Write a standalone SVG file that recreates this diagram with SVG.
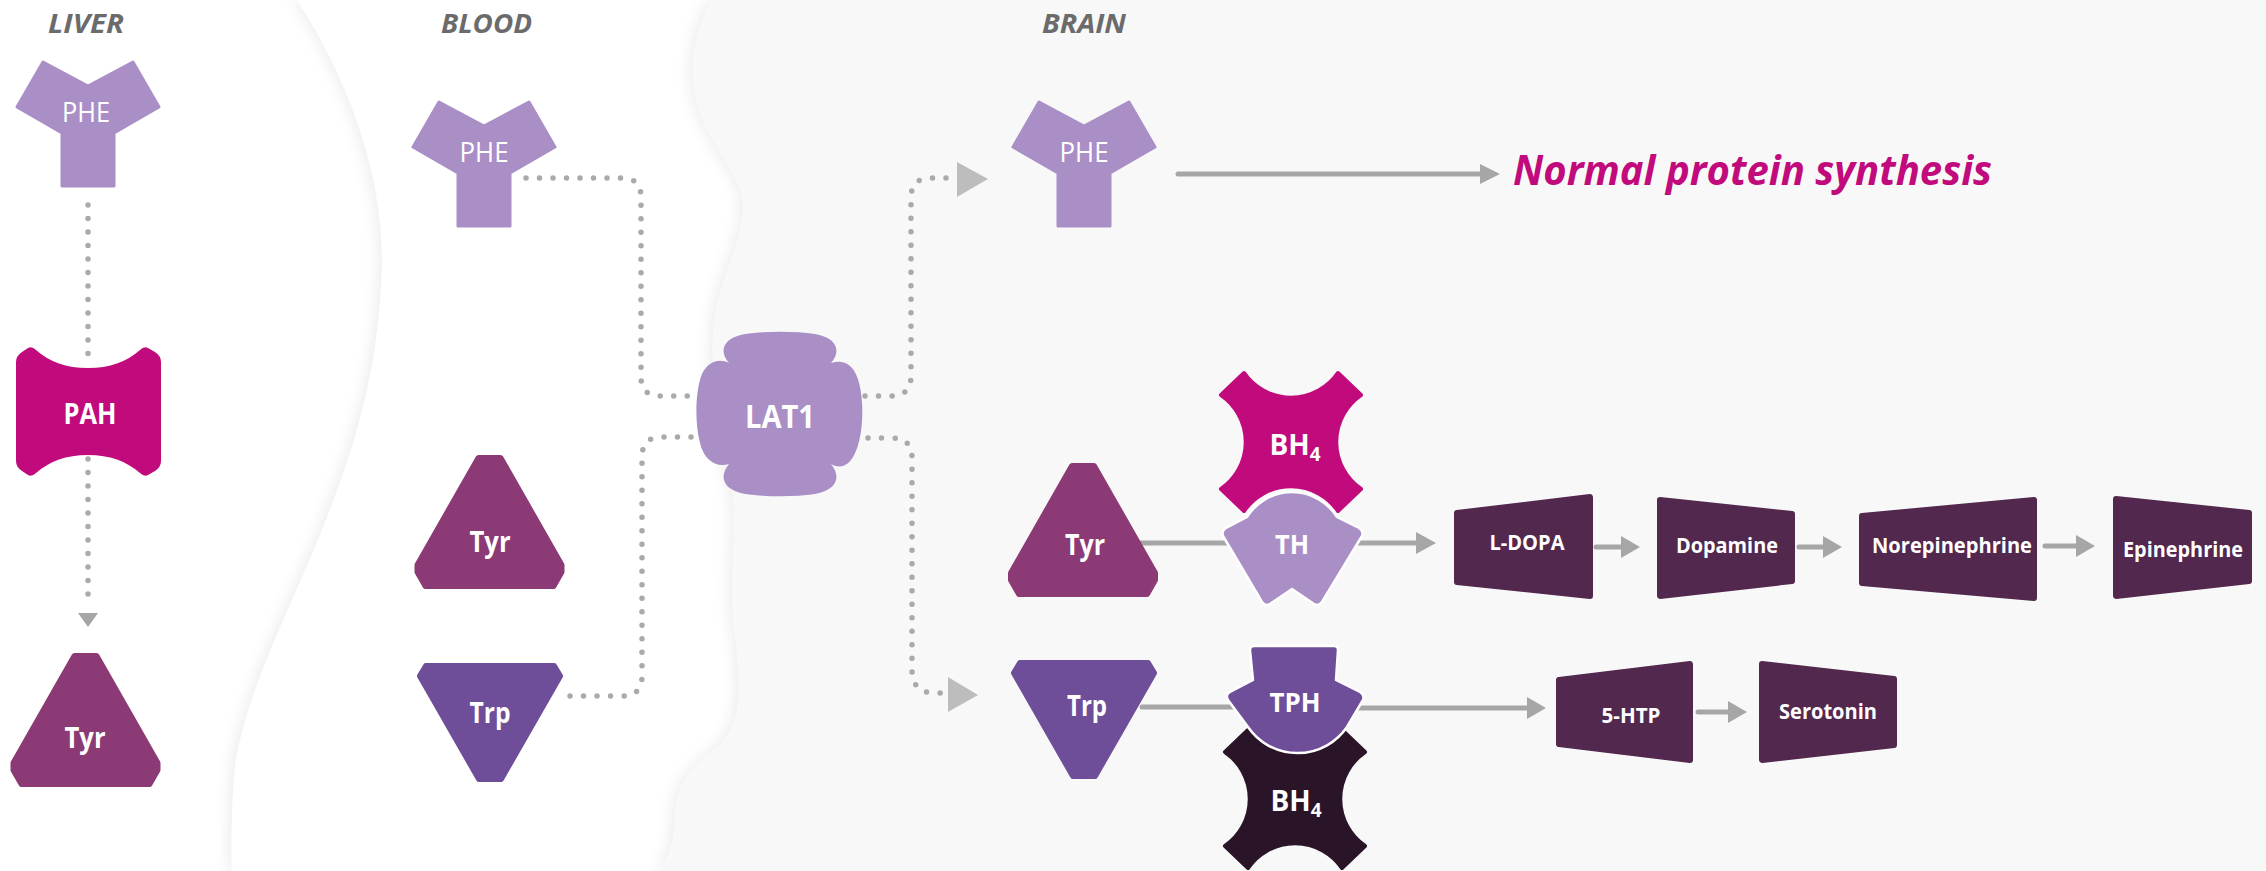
<svg xmlns="http://www.w3.org/2000/svg" width="2266" height="871" viewBox="0 0 2266 871">
<style>
.lbl{font-family:"Open Sans","Liberation Sans",sans-serif;font-weight:700;font-style:italic;font-size:26px;fill:#6b6b6b}
.nt{font-family:"Open Sans","Liberation Sans",sans-serif;fill:#fff;text-anchor:middle}
.thin{font-weight:400;font-size:28px}
.bold{font-weight:700;font-size:28px}
.box{font-weight:700;font-size:21px}
.dot{fill:none;stroke:#aaaaaa;stroke-width:5.5;stroke-linecap:round;stroke-dasharray:0 13.5}
.ln{fill:none;stroke:#a6a6a6;stroke-width:5;stroke-linecap:round}
.ah{fill:#a6a6a6}
.ahl{fill:#bdbdbd}
.phe{fill:#a98fc6;stroke:#a98fc6;stroke-width:3;stroke-linejoin:round}
.tyr{fill:#8b3a75;stroke:#8b3a75;stroke-width:6;stroke-linejoin:round}
.trp{fill:#6f4e99;stroke:#6f4e99;stroke-width:6;stroke-linejoin:round}
.prod{fill:#52284f;stroke:#52284f;stroke-width:6;stroke-linejoin:round}
</style>
<defs>
<filter id="sh" x="-5%" y="-5%" width="110%" height="110%">
<feDropShadow dx="-4" dy="0" stdDeviation="7" flood-color="#000" flood-opacity="0.07"/>
</filter>
<path id="pheShape" d="M-45,0 L0,24 L45,0 L71,45 L26,71 L26,124 L-26,124 L-26,71 L-71,45 Z"/>
<path id="tyrShape" d="M-11,3 L11,3 L72,110 L72,117 L64,131 L-64,131 L-72,117 L-72,110 Z"/>
<path id="trpShape" d="M-64,3 L64,3 L70,13 L11,116 L-11,116 L-70,13 Z"/>
<path id="bh4Shape" d="M-47,-69 A57,57 0 0 0 47,-69 L70,-47 A57,57 0 0 0 70,47 L47,69 A57,57 0 0 0 -47,69 L-70,47 A57,57 0 0 0 -70,-47 Z"/>
</defs>

<!-- backgrounds -->
<rect x="0" y="0" width="2266" height="871" fill="#ffffff"/>
<path filter="url(#sh)" fill="#ffffff" d="M297,0 C350,80 385,180 382,270 C379,350 365,420 330,510 C300,590 250,680 236,760 C231,800 232,840 232,871 L2266,871 L2266,0 Z"/>
<path filter="url(#sh)" fill="#f8f8f8" d="M712,0 C688,45 688,85 705,125 C725,165 748,185 743,215 C738,255 714,290 713,340 C712,400 722,450 733,495 C738,540 728,580 735,630 C740,680 745,720 720,745 C695,765 676,780 675,820 C674,845 668,860 660,871 L2266,871 L2266,0 Z"/>

<text class="lbl" x="48" y="33" textLength="76" lengthAdjust="spacingAndGlyphs">LIVER</text>
<text class="lbl" x="441" y="33" textLength="91" lengthAdjust="spacingAndGlyphs">BLOOD</text>
<text class="lbl" x="1042" y="33" textLength="84" lengthAdjust="spacingAndGlyphs">BRAIN</text>

<g id="connectors">
<path class="dot" d="M88,205 L88,367"/>
<path class="dot" d="M88,459 L88,606"/>
<polygon class="ah" points="78,613 98,613 88,627"/>
<path class="dot" d="M526,178 L622,178 Q641,178 641,197 L641,377 Q641,396 660,396 L698,396"/>
<path class="dot" d="M570,696 L622,696 Q642,696 642,676 L642,457 Q642,437 662,437 L698,437"/>
<path class="dot" d="M865,396 L891,396 Q911,396 911,376 L911,198 Q911,178 931,178 L948,178"/>
<polygon class="ahl" points="957,162 957,197 988,179"/>
<path class="dot" d="M868,438 L892,438 Q912,438 912,458 L912,670 Q912,693 935,693 L942,693"/>
<polygon class="ahl" points="948,677 948,712 978,695"/>
<path class="ln" d="M1178,174 L1482,174"/>
<polygon class="ah" points="1480,164 1480,184 1500,174"/>
<path class="ln" d="M1140,543 L1232,543"/>
<path class="ln" d="M1356,543 L1418,543"/>
<polygon class="ah" points="1416,532 1416,554 1436,543"/>
<path class="ln" d="M1596,547 L1623,547"/>
<polygon class="ah" points="1621,536 1621,558 1640,547"/>
<path class="ln" d="M1799,547 L1825,547"/>
<polygon class="ah" points="1823,536 1823,558 1842,547"/>
<path class="ln" d="M2045,546 L2078,546"/>
<polygon class="ah" points="2076,535 2076,557 2095,546"/>
<path class="ln" d="M1142,707 L1234,707"/>
<path class="ln" d="M1358,708 L1529,708"/>
<polygon class="ah" points="1527,697 1527,719 1546,708"/>
<path class="ln" d="M1698,712 L1730,712"/>
<polygon class="ah" points="1728,701 1728,723 1747,712"/>
</g>

<g id="liver-phe">
<use href="#pheShape" class="phe" transform="translate(88,62)"/>
<text class="nt thin" x="86" y="122" textLength="48" lengthAdjust="spacingAndGlyphs">PHE</text>
</g>
<g id="liver-pah">
<path fill="#c10a7c" d="M16,362 Q16,356 22,352 L28,348 Q32,346 36,350 C50,362 66,368 88,368 C110,368 126,362 140,350 Q144,346 148,348 L155,352 Q161,356 161,362 L161,461 Q161,467 155,471 L148,475 Q144,477 140,473 C126,461 110,455 88,455 C66,455 50,461 36,473 Q32,477 28,475 L22,471 Q16,467 16,461 Z"/>
<text class="nt bold" x="90" y="424" textLength="53" lengthAdjust="spacingAndGlyphs" style="font-size:29px">PAH</text>
</g>
<g id="liver-tyr">
<use href="#tyrShape" class="tyr" transform="translate(85.5,653)"/>
<text class="nt bold" x="85" y="748" textLength="41" lengthAdjust="spacingAndGlyphs">Tyr</text>
</g>

<g id="blood-phe">
<use href="#pheShape" class="phe" transform="translate(484,102)"/>
<text class="nt thin" x="484" y="162" textLength="49" lengthAdjust="spacingAndGlyphs">PHE</text>
</g>
<g id="blood-tyr">
<use href="#tyrShape" class="tyr" transform="translate(489.5,455)"/>
<text class="nt bold" x="490" y="552" textLength="41" lengthAdjust="spacingAndGlyphs">Tyr</text>
</g>
<g id="blood-trp">
<use href="#trpShape" class="trp" transform="translate(490,663)"/>
<text class="nt bold" x="490" y="723" textLength="41" lengthAdjust="spacingAndGlyphs">Trp</text>
</g>

<g id="lat1">
<path fill="#a98fc6" d="M729,363 C719,352 722,338 745,334 C765,331 795,331 815,334 C838,338 841,352 831,363 C850,357 860,372 862,402 C864,432 857,462 843,466 C838,467 834,466 831,464 C841,476 838,490 815,494 C795,497 765,497 745,494 C722,490 719,476 729,464 C716,468 704,460 700,443 C694,420 696,388 702,374 C708,361 720,358 729,363 Z"/>
<text class="nt bold" x="780" y="428" textLength="70" lengthAdjust="spacingAndGlyphs" style="font-size:32px">LAT1</text>
</g>

<g id="brain-phe">
<use href="#pheShape" class="phe" transform="translate(1084,102)"/>
<text class="nt thin" x="1084" y="162" textLength="49" lengthAdjust="spacingAndGlyphs">PHE</text>
</g>
<g id="normal-protein">
<text x="1513" y="185" font-family="'Open Sans','Liberation Sans',sans-serif" font-weight="700" font-style="italic" font-size="42" fill="#c10a7c" textLength="479" lengthAdjust="spacingAndGlyphs">Normal protein synthesis</text>
</g>

<g id="brain-tyr">
<use href="#tyrShape" class="tyr" transform="translate(1083,463)"/>
<text class="nt bold" x="1085" y="555" textLength="40" lengthAdjust="spacingAndGlyphs">Tyr</text>
</g>
<g id="bh4-top">
<use href="#bh4Shape" fill="#c10a7c" stroke="#c10a7c" stroke-width="4" stroke-linejoin="round" transform="translate(1291,442)"/>
<text class="nt bold" x="1295" y="455">BH<tspan dy="6" style="font-size:19px">4</tspan></text>
</g>
<g id="th">
<path fill="#a98fc6" stroke="#ffffff" stroke-width="2.5" stroke-linejoin="round" d="M1247,517 A53,53 0 0 1 1337,517 L1359,528 Q1364,531 1362,536 L1322,602 Q1318,607 1314,604 L1292,589 L1270,604 Q1266,607 1262,602 L1223,536 Q1221,531 1226,528 Z"/>
<text class="nt bold" x="1292" y="554" textLength="34" lengthAdjust="spacingAndGlyphs" style="font-size:26px">TH</text>
</g>

<g id="brain-trp">
<use href="#trpShape" class="trp" transform="translate(1084,660)"/>
<text class="nt bold" x="1087" y="716" textLength="40" lengthAdjust="spacingAndGlyphs">Trp</text>
</g>
<g id="bh4-bottom">
<use href="#bh4Shape" fill="#2a1528" stroke="#2a1528" stroke-width="4" stroke-linejoin="round" transform="translate(1295,799)"/>
<text class="nt bold" x="1296" y="811">BH<tspan dy="6" style="font-size:19px">4</tspan></text>
</g>
<g id="tph">
<path fill="#6f4e99" stroke="#ffffff" stroke-width="2.5" stroke-linejoin="round" d="M1250,650 Q1250,646 1254,646 L1334,646 Q1338,646 1338,650 L1336,680 L1360,692 Q1365,695 1363,700 L1347,727 A60,60 0 0 1 1248,727 L1228,700 Q1225,695 1230,692 L1253,680 Z"/>
<text class="nt bold" x="1295" y="712" textLength="51" lengthAdjust="spacingAndGlyphs" style="font-size:27px">TPH</text>
</g>

<g id="l-dopa">
<path class="prod" d="M1457,513 L1590,497 L1590,596 L1457,582 Z"/>
<text class="nt box" x="1527" y="550" textLength="75" lengthAdjust="spacingAndGlyphs">L-DOPA</text>
</g>
<g id="dopamine">
<path class="prod" d="M1660,500 L1792,514 L1792,581 L1660,596 Z"/>
<text class="nt box" x="1727" y="553" textLength="102" lengthAdjust="spacingAndGlyphs">Dopamine</text>
</g>
<g id="norepinephrine">
<path class="prod" d="M1862,516 L2034,500 L2034,598 L1862,583 Z"/>
<text class="nt box" x="1952" y="553" textLength="160" lengthAdjust="spacingAndGlyphs">Norepinephrine</text>
</g>
<g id="epinephrine">
<path class="prod" d="M2116,499 L2249,513 L2249,581 L2116,596 Z"/>
<text class="nt box" x="2183" y="557" textLength="120" lengthAdjust="spacingAndGlyphs">Epinephrine</text>
</g>
<g id="5-htp">
<path class="prod" d="M1559,680 L1690,664 L1690,760 L1559,744 Z"/>
<text class="nt box" x="1631" y="723" textLength="59" lengthAdjust="spacingAndGlyphs">5-HTP</text>
</g>
<g id="serotonin">
<path class="prod" d="M1762,664 L1894,679 L1894,745 L1762,760 Z"/>
<text class="nt box" x="1828" y="719" textLength="98" lengthAdjust="spacingAndGlyphs">Serotonin</text>
</g>
</svg>
